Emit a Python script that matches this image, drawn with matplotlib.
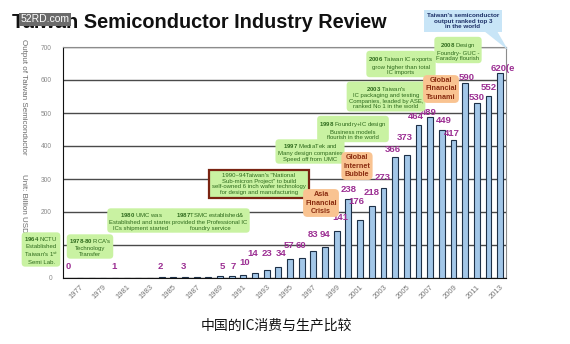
import matplotlib.pyplot as plt
from matplotlib.patches import Polygon

plt.rcParams['font.family'] = ['Liberation Sans', 'DejaVu Sans']
plt.rcParams['mathtext.fontset'] = 'custom'
plt.rcParams['mathtext.rm'] = 'Liberation Sans'
plt.rcParams['mathtext.bf'] = 'Liberation Sans:bold'

# ---- data (billion USD) ----
years = list(range(1977, 2014))
output = [0, 0, 0.5, 1, 1, 1.5, 1.5, 2, 2.5, 3, 3.5, 4, 5, 7, 10, 14, 23, 34,
          57, 60, 83, 94, 141, 238, 176, 218, 273, 366, 373, 464, 489, 449,
          417, 590, 530, 552, 620]

label_years = [1977, 1980, 1984, 1986, 1989, 1990, 1991, 1992, 1993, 1994,
               1995, 1996, 1997, 1998, 1999, 2000, 2001, 2002, 2003, 2004,
               2005, 2006, 2007, 2008, 2009, 2010, 2011, 2012, 2013]
label_texts = ["0", "1", "2", "3", "5", "7", "10", "14", "23", "34", "57", "60",
               "83", "94", "141", "238", "176", "218", "273", "366", "373",
               "464", "489", "449", "417", "590", "530", "552", "620(e"]
# where each value label sits (x shift in years, y in data units)
label_dx = [-1.0, -0.1, -0.1, -0.1, 0.2, 0.1, 0.1, -0.2, 0, 0.2, -0.1, -0.1,
            0, 0, 0.35, 0, -0.3, 0, -0.1, -0.2, -0.2, -0.2, -0.1, 0.2, -0.1,
            0.1, 0, 0, 0.2]
label_y = [36, 36, 36, 36, 36, 36, 48, 73, 73, 73, 97, 97, 133, 133, 182, 267,
           233, 258, 306, 388, 427, 488, 502, 476, 439, 609, 548, 576, 636]

ytick_vals = [0, 100, 200, 300, 400, 500, 600, 700]
ytick_text = ["0", "", "200", "300", "400", "500", "600", "700"]  # 100 sits under a note
xtick_years = list(range(1977, 2014, 2))

W, H = 570, 344


def fx(px):
    return px / W


def fy(py):
    return 1 - py / H


GREEN_BOX = '#c9f2a2'
GREEN_TXT = '#2e6a1c'
ORANGE_BOX = '#f9c391'
ORANGE_TXT = '#8a2c10'

# (center x px, center y px, text, kind)
notes = [
    (41, 250, "$\\mathbf{1964}$ NCTU\nEstablished\nTaiwan's 1$^{st}$\nSemi Lab.", "green"),
    (90, 247, "$\\mathbf{1978}$-$\\mathbf{80}$ RCA's\nTechnology\nTransfer", "green"),
    (141, 221, "$\\mathbf{1980}$ UMC was\nEstablished and started\nICs shipment started", "green"),
    (210, 221, "$\\mathbf{1987}$TSMC established&\nprovided the Professional IC\nfoundry service", "green"),
    (259, 184, "1990~94Taiwan's \"National\nSub-micron Project\" to build\n"
               "self-owned 6 inch wafer technology\nfor design and manufacturing", "red"),
    (321, 203, "Asia\nFinancial\nCrisis", "orange"),
    (310, 152, "$\\mathbf{1997}$ MediaTek and\nMany design companies\nSpeed off from UMC", "green"),
    (357, 166, "Global\nInternet\nBubble", "orange"),
    (353, 130, "$\\mathbf{1998}$ Foundry+IC design\nBusiness models\nflourish in the world", "green"),
    (386, 97, "$\\mathbf{2003}$ Taiwan's\nIC packaging and testing\nCompanies, leaded by ASE,\n"
              "ranked No 1 in the world", "green"),
    (401, 65, "$\\mathbf{2006}$ Taiwan IC exports\ngrow higher than total\nIC imports", "green"),
    (441, 89, "Global\nFinancial\nTsunami", "orange"),
    (458, 51, "$\\mathbf{2008}$ Design\nFoundry- GUC -\nFaraday flourish", "green"),
]

fig = plt.figure(figsize=(5.7, 3.44), dpi=100)
ax = fig.add_axes([fx(63), fy(278), (506 - 63) / W, (278 - 47) / H])

ax.bar(years, output, width=0.5, color='#a3c7e8', edgecolor='#1d3047',
       linewidth=0.8, zorder=3)

ax.set_xlim(1975.55, 2013.5)
ax.set_ylim(0, 700)
ax.set_yticks(ytick_vals)
ax.set_yticklabels(ytick_text)
ax.set_xticks(xtick_years)
ax.set_xticklabels([str(y) for y in xtick_years], rotation=45, ha='right',
                   rotation_mode='anchor', fontsize=5.5, color='#777777')
ax.tick_params(axis='both', length=0)
ax.tick_params(axis='y', labelsize=4.8, labelcolor='#8a8a8a', pad=8)
ax.tick_params(axis='x', pad=4)
ax.yaxis.grid(True, color='#4a4a4a', linewidth=1.0, zorder=0)
ax.set_axisbelow(True)
for side in ('top', 'right'):
    ax.spines[side].set_color('#8c8c8c')
ax.spines['left'].set_color('#111111')
ax.spines['bottom'].set_color('#111111')

for yr, txt, dx, ly in zip(label_years, label_texts, label_dx, label_y):
    ax.text(yr + dx, ly, txt, ha='center', va='center', fontsize=6.8,
            fontweight='bold', color='#9c2f93', zorder=5, clip_on=False)

# y axis caption (reads top to bottom)
fig.text(fx(23), fy(97), "Output of Taiwan Semiconductor", rotation=-90,
         ha='center', va='center', fontsize=5.8, color='#6a6a6a')
fig.text(fx(23), fy(203), "Unit: Billion USD", rotation=-90,
         ha='center', va='center', fontsize=5.8, color='#6a6a6a')

# title and watermark
fig.text(fx(12), fy(22), "Taiwan Semiconductor Industry Review", ha='left',
         va='center', fontsize=14.3, fontweight='bold', color='#111111')
fig.text(fx(45), fy(19.5), "52RD.com", ha='center', va='center', fontsize=7.5,
         color='white', bbox=dict(boxstyle='square,pad=0.15', fc='#6b6b6b', ec='none'))

# event callouts
for cx, cy, txt, kind in notes:
    if kind == "green":
        box = dict(boxstyle='round,pad=0.35,rounding_size=0.6', fc=GREEN_BOX, ec='none')
        fig.text(fx(cx), fy(cy), txt, ha='center', va='center', fontsize=4.3,
                 color=GREEN_TXT, linespacing=1.15, bbox=box)
    elif kind == "red":
        box = dict(boxstyle='square,pad=0.45', fc=GREEN_BOX, ec='#7a2412', lw=1.6)
        fig.text(fx(cx), fy(cy), txt, ha='center', va='center', fontsize=4.3,
                 color=GREEN_TXT, linespacing=1.15, bbox=box)
    else:
        box = dict(boxstyle='round,pad=0.3,rounding_size=0.6', fc=ORANGE_BOX, ec='none')
        fig.text(fx(cx), fy(cy), txt, ha='center', va='center', fontsize=5.2,
                 fontweight='bold', color=ORANGE_TXT, linespacing=1.25, bbox=box)

# blue callout with tail
tail = Polygon([(fx(484), fy(31)), (fx(497), fy(31)), (fx(508), fy(50))],
               closed=True, transform=fig.transFigure, fc='#c8e5f7', ec='none')
fig.patches.append(tail)
fig.text(fx(463), fy(21), "Taiwan's semiconductor\noutput ranked top 3\nin the world",
         ha='center', va='center', fontsize=4.5, fontweight='bold', color='#1c2f66',
         linespacing=1.15,
         bbox=dict(boxstyle='square,pad=0.5', fc='#c8e5f7', ec='none'))

fig.text(fx(276), fy(325), "中国的IC消费与生产比较", ha='center', va='center',
         fontsize=10, family=['Noto Sans CJK SC', 'DejaVu Sans'], color='#111111')

fig.savefig('out.png', dpi=100)
